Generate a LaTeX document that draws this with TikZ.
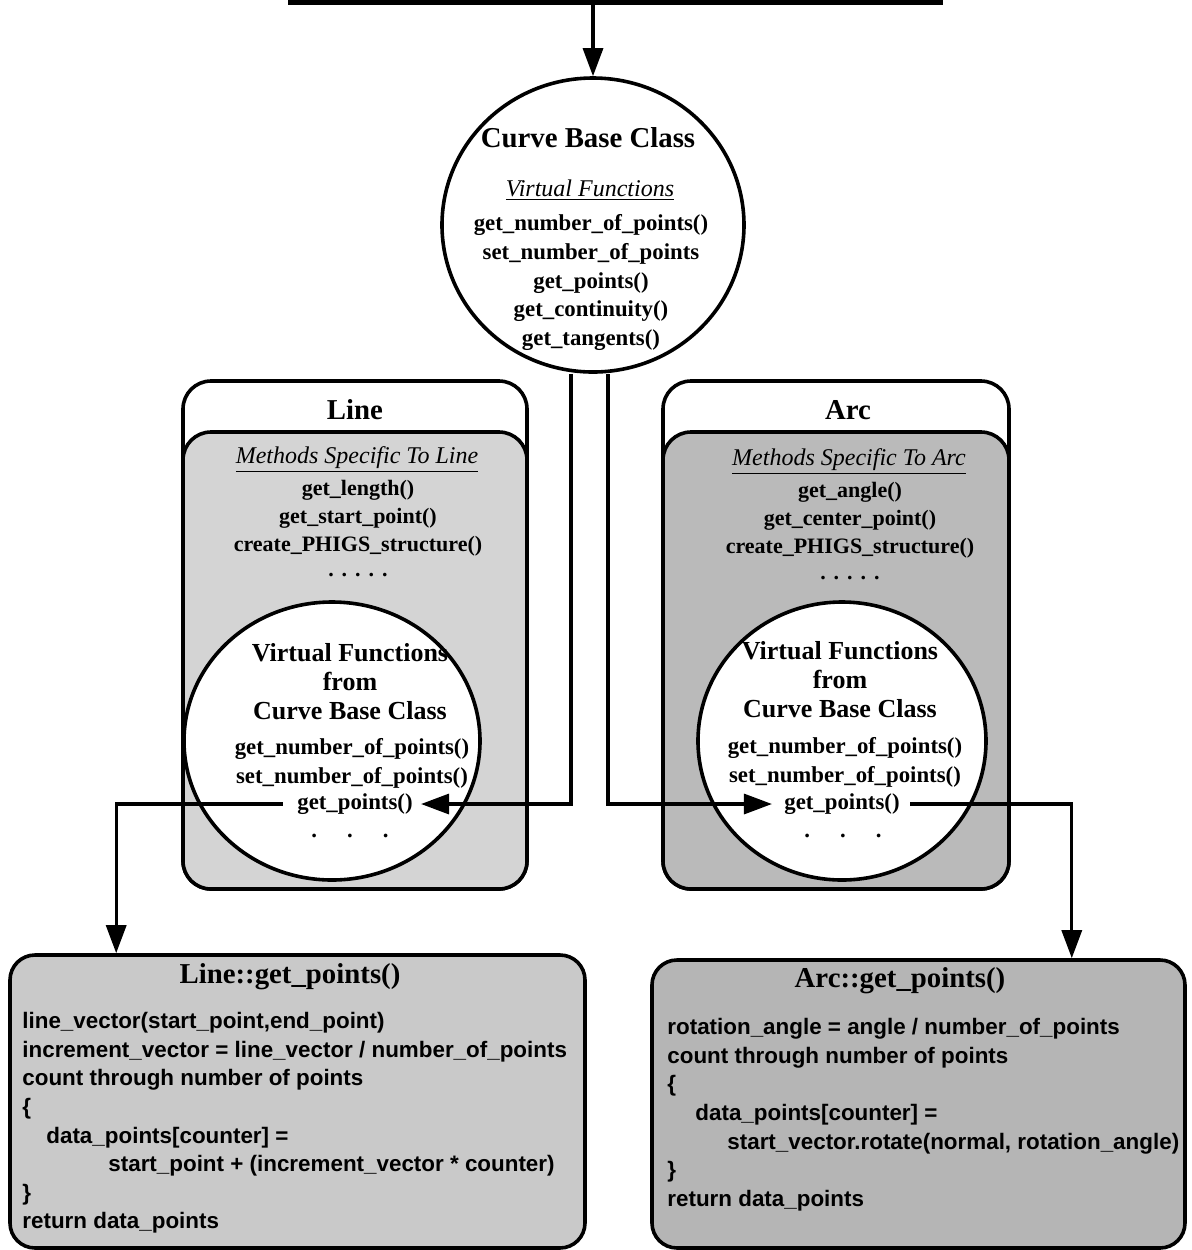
\documentclass[tikz,border=0pt]{standalone}
\usepackage{fontspec}
\setmainfont{Liberation Serif}
\newfontfamily\codefont{Liberation Sans}
\usetikzlibrary{arrows.meta,shapes.geometric,calc}

\begin{document}
\begin{tikzpicture}[x=0.5pt,y=-0.5pt,
  outline/.style={draw,line width=1.8pt},
  classbox/.style={outline,rectangle,rounded corners=14pt,inner sep=0pt,
    minimum width=172pt,minimum height=254pt},
  methodbox/.style={outline,rectangle,rounded corners=14pt,inner sep=0pt,
    minimum width=172pt,minimum height=228.5pt},
  codebox/.style={outline,rectangle,rounded corners=12.5pt,inner sep=0pt},
  oval/.style={outline,ellipse,inner sep=0pt,fill=white},
  conn/.style={line width=1.6pt,-{Triangle[length=14pt,width=10pt]}},
  title/.style={inner sep=0pt,font=\bfseries\fontsize{14.4}{17}\selectfont},
  head/.style={inner sep=0pt,font=\itshape\fontsize{12}{14}\selectfont},
  fn/.style={inner sep=0pt,align=center,font=\bfseries\fontsize{11.4}{14.4}\selectfont},
  mfn/.style={inner sep=0pt,align=center,font=\bfseries\fontsize{11}{14}\selectfont},
  vhead/.style={inner sep=0pt,align=center,font=\bfseries\fontsize{13}{14.5}\selectfont},
  code/.style={inner sep=0pt,align=left,font=\codefont\bfseries\fontsize{11.2}{14.3}\selectfont}
]
\useasboundingbox (0,0) rectangle (1191,1250);

% feed bar at the top
\node[fill,inner sep=0pt,minimum width=327.5pt,minimum height=2.5pt] (bar) at (615.5,2.5) {};

% ---- base class ----
\node[oval,minimum width=151pt,minimum height=147pt] (base) at (593,225) {};
\node[title] (basetitle) at (588,138) {Curve Base Class};
\node[head] (basehead) at (590,190) {\underline{Virtual Functions}};
\node[fn,anchor=north] (basefns) at (591,214)
  {get\_number\_of\_points()\\set\_number\_of\_points\\get\_points()\\get\_continuity()\\get\_tangents()};

% ---- Line class ----
\node[classbox] (linecls) at (355,635) {};
\node[methodbox,fill=black!17] (linem) at (355,660.5) {};
\node[title] (linetitle) at (355,410) {Line};
\node[head] (linehead) at (357,460) {\underline{Methods Specific To Line}};
\node[mfn,anchor=north] (linefns) at (358,480)
  {get\_length()\\get\_start\_point()\\create\_PHIGS\_structure()};
\node[mfn] (linemore) at (358,575) {.\hspace{4pt}.\hspace{4pt}.\hspace{4pt}.\hspace{4pt}.};
\node[oval,minimum width=148pt,minimum height=139pt] (linevf) at (332,741) {};
\node[vhead,anchor=north] (linevfh) at (350,643) {Virtual Functions\\from\\Curve Base Class};
\node[fn,anchor=north] (linevfl) at (352,738) {get\_number\_of\_points()\\set\_number\_of\_points()};
\node[fn] (lgp) at (355,804) {get\_points()};
\node[fn] (linevfd) at (350,836) {.\hspace{15pt}.\hspace{15pt}.};

% ---- Arc class ----
\node[classbox,minimum width=173pt] (arccls) at (836,635) {};
\node[methodbox,minimum width=173pt,fill=black!27] (arcm) at (836,660.5) {};
\node[title] (arctitle) at (848,410) {Arc};
\node[head] (archead) at (849,462) {\underline{Methods Specific To Arc}};
\node[mfn,anchor=north] (arcfns) at (850,482)
  {get\_angle()\\get\_center\_point()\\create\_PHIGS\_structure()};
\node[mfn] (arcmore) at (850,578) {.\hspace{4pt}.\hspace{4pt}.\hspace{4pt}.\hspace{4pt}.};
\node[oval,minimum width=144pt,minimum height=139pt] (arcvf) at (842,741) {};
\node[vhead,anchor=north] (arcvfh) at (840,641) {Virtual Functions\\from\\Curve Base Class};
\node[fn,anchor=north] (arcvfl) at (845,737) {get\_number\_of\_points()\\set\_number\_of\_points()};
\node[fn] (agp) at (842,804) {get\_points()};
\node[fn] (arcvfd) at (843,836) {.\hspace{15pt}.\hspace{15pt}.};

% ---- method bodies ----
\node[codebox,fill=black!21,minimum width=287.5pt,minimum height=146.5pt] (lcode) at (297.5,1101.5) {};
\node[title] (lcodet) at (290,977) {Line::get\_points()};
\node[code,anchor=north west] (lcodeb) at (22,1012)
  {line\_vector(start\_point,end\_point)\\
   increment\_vector = line\_vector / number\_of\_points\\
   count through number of points\\
   \{\\
   \hspace*{12pt}data\_points[counter] =\\
   \hspace*{43pt}start\_point + (increment\_vector * counter)\\
   \}\\
   return data\_points};

\node[codebox,fill=black!29,minimum width=266.5pt,minimum height=144pt] (acode) at (918.5,1104) {};
\node[title] (acodet) at (900,981) {Arc::get\_points()};
\node[code,anchor=north west] (acodeb) at (667,1018)
  {rotation\_angle = angle / number\_of\_points\\
   count through number of points\\
   \{\\
   \hspace*{14pt}data\_points[counter] =\\
   \hspace*{30pt}start\_vector.rotate(normal, rotation\_angle)\\
   \}\\
   return data\_points};

% ---- connectors ----
\draw[conn] (bar.south -| base.north) -- (base.north);
\draw[conn] ([xshift=-11pt]base.south) |- ([xshift=4pt]lgp.east);
\draw[conn] ([xshift=7.5pt]base.south) |- ([xshift=-6pt]agp.west);
\draw[conn] ([xshift=-7pt]lgp.west) -| ([xshift=54pt]lcode.north west);
\draw[conn] ([xshift=5pt]agp.east) -| ([xshift=-57.5pt]acode.north east);
\end{tikzpicture}
\end{document}
